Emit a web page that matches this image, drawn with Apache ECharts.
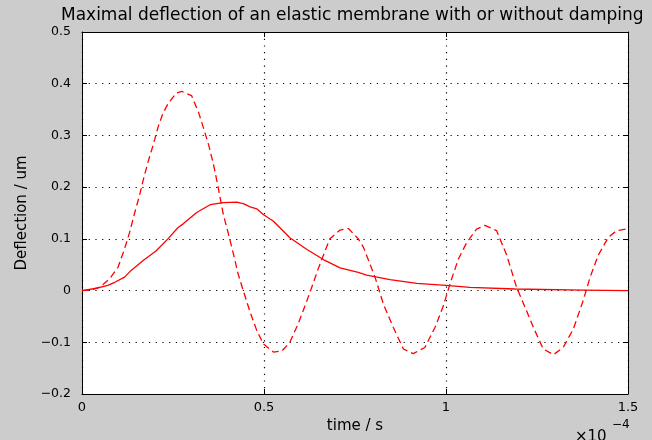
<!DOCTYPE html>
<html>
<head>
<meta charset="utf-8">
<script src="https://cdn.jsdelivr.net/npm/echarts@6/dist/echarts.min.js"></script>
<style>
html,body{margin:0;padding:0;background:#cccccc;}
#c{width:652px;height:440px;}
</style>
</head>
<body>
<div id="c"></div>
<script>
// time in units of 1e-4 s
var tDashed = [0, 0.025, 0.05, 0.076, 0.099, 0.117, 0.131, 0.145, 0.158, 0.168, 0.181, 0.195, 0.209, 0.222, 0.236, 0.259, 0.274, 0.301, 0.320, 0.333, 0.347, 0.361, 0.374, 0.388, 0.402, 0.416, 0.429, 0.443, 0.462, 0.480, 0.498, 0.526, 0.549, 0.571, 0.594, 0.613, 0.631, 0.649, 0.668, 0.681, 0.709, 0.732, 0.759, 0.773, 0.805, 0.828, 0.855, 0.883, 0.910, 0.942, 0.970, 0.993, 1.011, 1.034, 1.057, 1.084, 1.107, 1.139, 1.167, 1.194, 1.217, 1.240, 1.267, 1.295, 1.322, 1.350, 1.377, 1.396, 1.418, 1.446, 1.469, 1.496];
var vDashed = [0, 0.001, 0.007, 0.023, 0.045, 0.081, 0.113, 0.151, 0.184, 0.213, 0.248, 0.280, 0.316, 0.342, 0.361, 0.382, 0.385, 0.377, 0.345, 0.316, 0.284, 0.245, 0.200, 0.148, 0.110, 0.071, 0.032, 0.000, -0.042, -0.077, -0.103, -0.119, -0.117, -0.100, -0.064, -0.029, 0.006, 0.042, 0.077, 0.100, 0.117, 0.120, 0.100, 0.084, 0.026, -0.026, -0.071, -0.113, -0.122, -0.110, -0.071, -0.029, 0.013, 0.061, 0.093, 0.119, 0.126, 0.116, 0.068, 0.006, -0.032, -0.071, -0.113, -0.124, -0.110, -0.074, -0.019, 0.026, 0.068, 0.103, 0.116, 0.119];
var tSolid = [0, 0.044, 0.071, 0.090, 0.117, 0.135, 0.168, 0.204, 0.236, 0.264, 0.278, 0.315, 0.352, 0.388, 0.425, 0.443, 0.462, 0.480, 0.498, 0.526, 0.571, 0.617, 0.663, 0.709, 0.759, 0.782, 0.846, 0.920, 1.000, 1.066, 1.190, 1.377, 1.500];
var vSolid = [0, 0.005, 0.010, 0.016, 0.026, 0.039, 0.058, 0.077, 0.100, 0.122, 0.129, 0.151, 0.166, 0.170, 0.171, 0.168, 0.162, 0.158, 0.147, 0.134, 0.102, 0.080, 0.060, 0.044, 0.035, 0.030, 0.021, 0.014, 0.010, 0.006, 0.003, 0.001, 0];

var titleText = 'Maximal deflection of an elastic membrane with or without damping';
var xName = 'time / s';
var yName = 'Deflection / um';

function pairs(t, v) { return t.map(function (x, i) { return [x, v[i]]; }); }
function fmt(v) { return String(+v.toFixed(2)).replace('-', '\u2212'); }

var FONT = 'DejaVu Sans';
var chart = echarts.init(document.getElementById('c'));
var gridLine = { show: true, lineStyle: { color: '#000', width: 1.2, type: [1.2, 5.5] } };
var axLine = { show: true, onZero: false, lineStyle: { color: '#000', width: 1 } };
var tick = { show: true, inside: true, length: 5, lineStyle: { color: '#000' } };
chart.setOption({
  backgroundColor: '#cccccc',
  animation: false,
  title: {
    text: titleText, left: 56, top: 2,
    textStyle: { fontFamily: FONT, fontSize: 17, fontWeight: 'normal', color: '#000' }
  },
  grid: { left: 82, right: 24, top: 32, bottom: 46, show: true, backgroundColor: '#fff', borderWidth: 0 },
  xAxis: [{
    type: 'value', min: 0, max: 1.5, interval: 0.5,
    name: xName, nameLocation: 'middle', nameGap: 22,
    nameTextStyle: { fontFamily: FONT, fontSize: 15, color: '#000' },
    axisLine: axLine, axisTick: tick, splitLine: gridLine,
    axisLabel: { fontFamily: FONT, fontSize: 13, color: '#000', margin: 7, formatter: fmt }
  }, {
    type: 'value', position: 'top', min: 0, max: 1.5, interval: 0.5,
    axisLine: axLine, axisTick: tick, splitLine: { show: false }, axisLabel: { show: false }
  }],
  yAxis: [{
    type: 'value', min: -0.2, max: 0.5, interval: 0.1,
    name: yName, nameLocation: 'middle', nameGap: 50,
    nameTextStyle: { fontFamily: FONT, fontSize: 15, color: '#000' },
    axisLine: axLine, axisTick: tick, splitLine: gridLine,
    axisLabel: { fontFamily: FONT, fontSize: 12.5, color: '#000', margin: 11, formatter: fmt }
  }, {
    type: 'value', position: 'right', min: -0.2, max: 0.5, interval: 0.1,
    axisLine: axLine, axisTick: tick, splitLine: { show: false }, axisLabel: { show: false }
  }],
  graphic: [
    { type: 'text', left: 575, top: 430, style: { text: '\u00d710', font: '15px "DejaVu Sans"', fill: '#000' } },
    { type: 'text', left: 612, top: 419, style: { text: '\u22124', font: '12px "DejaVu Sans"', fill: '#000' } }
  ],
  series: [{
    type: 'line', xAxisIndex: 0, yAxisIndex: 0, data: pairs(tDashed, vDashed), showSymbol: false, smooth: false,
    lineStyle: { color: '#ff0000', width: 1.3, type: [7, 4] }, z: 3
  }, {
    type: 'line', xAxisIndex: 0, yAxisIndex: 0, data: pairs(tSolid, vSolid), showSymbol: false, smooth: false,
    lineStyle: { color: '#ff0000', width: 1.3, type: 'solid' }, z: 3
  }]
});
</script>
</body>
</html>
